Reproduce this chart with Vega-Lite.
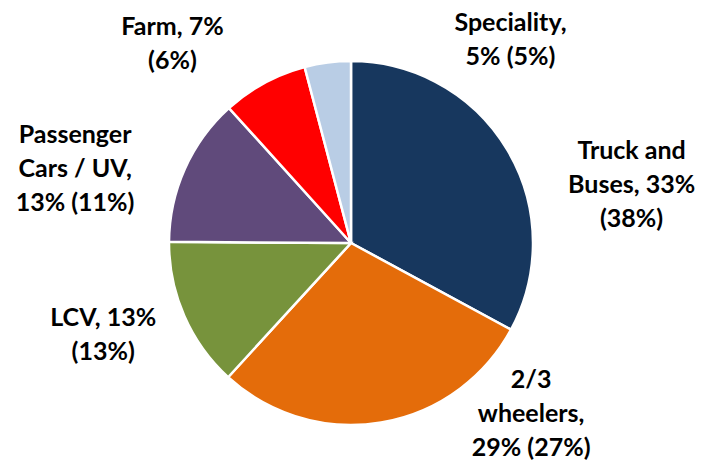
{
  "$schema": "https://vega.github.io/schema/vega-lite/v6.json",
  "width": 702,
  "height": 434,
  "padding": {"left": 0, "top": 26, "right": 6, "bottom": 0},
  "autosize": {"type": "none"},
  "background": "white",
  "view": {"stroke": null},
  "data": {
    "values": [
      {"segment": "Truck and Buses", "share": 32.9, "order": 1, "label": "Truck and\nBuses, 33%\n(38%)"},
      {"segment": "2/3 wheelers", "share": 28.9, "order": 2, "label": "2/3\nwheelers,\n29% (27%)"},
      {"segment": "LCV", "share": 13.3, "order": 3, "label": "LCV, 13%\n(13%)"},
      {"segment": "Passenger Cars / UV", "share": 13.2, "order": 4, "label": "Passenger\nCars / UV,\n13% (11%)"},
      {"segment": "Farm", "share": 7.6, "order": 5, "label": "Farm, 7%\n(6%)"},
      {"segment": "Speciality", "share": 4.1, "order": 6, "label": "Speciality,\n5% (5%)"}
    ]
  },
  "encoding": {
    "theta": {"field": "share", "type": "quantitative", "stack": true},
    "order": {"field": "order", "type": "quantitative"}
  },
  "layer": [
    {
      "mark": {"type": "arc", "outerRadius": 182, "stroke": "white", "strokeWidth": 2.5},
      "encoding": {
        "color": {
          "field": "segment",
          "type": "nominal",
          "legend": null,
          "scale": {
            "domain": ["Truck and Buses", "2/3 wheelers", "LCV", "Passenger Cars / UV", "Farm", "Speciality"],
            "range": ["#17375E", "#E46C0A", "#77933C", "#604A7B", "#FF0000", "#B9CDE5"]
          }
        }
      }
    },
    {
      "mark": {"type": "text", "radius": 230, "dx": 83, "dy": 26, "font": "Lato", "fontWeight": "bold", "fontSize": 25, "lineBreak": "\n", "lineHeight": 34, "align": "center", "baseline": "middle", "color": "black"},
      "encoding": {"text": {"condition": {"test": "datum.segment === 'Truck and Buses'", "field": "label"}, "value": ""}}
    },
    {
      "mark": {"type": "text", "radius": 230, "dx": 142, "dy": -90, "font": "Lato", "fontWeight": "bold", "fontSize": 25, "lineBreak": "\n", "lineHeight": 34, "align": "center", "baseline": "middle", "color": "black"},
      "encoding": {"text": {"condition": {"test": "datum.segment === '2/3 wheelers'", "field": "label"}, "value": ""}}
    },
    {
      "mark": {"type": "text", "radius": 230, "dx": -37, "dy": -17, "font": "Lato", "fontWeight": "bold", "fontSize": 25, "lineBreak": "\n", "lineHeight": 34, "align": "center", "baseline": "middle", "color": "black"},
      "encoding": {"text": {"condition": {"test": "datum.segment === 'LCV'", "field": "label"}, "value": ""}}
    },
    {
      "mark": {"type": "text", "radius": 230, "dx": -66, "dy": -14, "font": "Lato", "fontWeight": "bold", "fontSize": 25, "lineBreak": "\n", "lineHeight": 34, "align": "center", "baseline": "middle", "color": "black"},
      "encoding": {"text": {"condition": {"test": "datum.segment === 'Passenger Cars / UV'", "field": "label"}, "value": ""}}
    },
    {
      "mark": {"type": "text", "radius": 230, "dx": -69, "dy": -14, "font": "Lato", "fontWeight": "bold", "fontSize": 25, "lineBreak": "\n", "lineHeight": 34, "align": "center", "baseline": "middle", "color": "black"},
      "encoding": {"text": {"condition": {"test": "datum.segment === 'Farm'", "field": "label"}, "value": ""}}
    },
    {
      "mark": {"type": "text", "radius": 230, "dx": 189, "dy": 8, "font": "Lato", "fontWeight": "bold", "fontSize": 25, "lineBreak": "\n", "lineHeight": 34, "align": "center", "baseline": "middle", "color": "black"},
      "encoding": {"text": {"condition": {"test": "datum.segment === 'Speciality'", "field": "label"}, "value": ""}}
    }
  ]
}
